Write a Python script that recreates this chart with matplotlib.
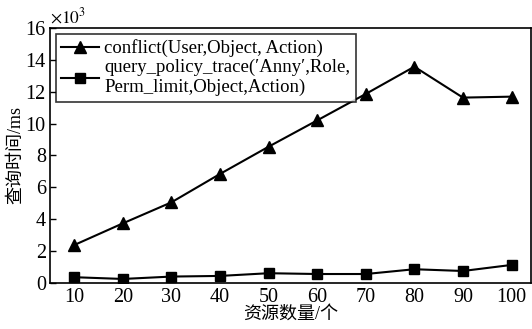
import matplotlib

matplotlib.use("Agg")
import matplotlib.pyplot as plt

plt.rcParams["font.family"] = ["Liberation Serif", "Noto Sans CJK SC", "DejaVu Sans"]
plt.rcParams["mathtext.fontset"] = "stix"

resources = [10, 20, 30, 40, 50, 60, 70, 80, 90, 100]
conflict_ms = [2.38, 3.74, 5.06, 6.84, 8.55, 10.2, 11.86, 13.57, 11.63, 11.69]
trace_ms = [0.36, 0.25, 0.4, 0.44, 0.61, 0.56, 0.56, 0.86, 0.75, 1.13]
conflict_label = "conflict(User,Object, Action)"
trace_label = "query_policy_trace(\u2032Anny\u2032,Role,\nPerm_limit,Object,Action)"

fig = plt.figure(figsize=(5.32, 3.29), dpi=100)
ax = fig.add_axes([0.094, 0.140, 0.904, 0.775])

ax.plot(resources, conflict_ms, color="black", marker="^", markersize=9,
        linewidth=1.5, label=conflict_label)
ax.plot(resources, trace_ms, color="black", marker="s", markersize=7.5,
        linewidth=1.5, label=trace_label)

ax.set_xlim(5, 104)
ax.set_ylim(0, 16)
ax.set_xticks(resources)
ax.set_yticks(range(0, 17, 2))
ax.tick_params(direction="in", labelsize=14.5, length=4, width=1)
ax.tick_params(axis="x", length=0, pad=4)
ax.tick_params(axis="y", pad=3)
for s in ax.spines.values():
    s.set_linewidth(1.2)

ax.set_xlabel("资源数量/个", fontsize=13, labelpad=-1)
ax.set_ylabel("查询时间/ms", fontsize=13, labelpad=1)
ax.text(0.0, 1.005, r"$\times10^3$", transform=ax.transAxes, fontsize=12.5,
        ha="left", va="bottom")

leg = ax.legend(loc="upper left", fontsize=13.5, frameon=True, fancybox=False,
                edgecolor="black", handlelength=2.0, borderaxespad=0.3,
                handletextpad=0.3, labelspacing=0.1, borderpad=0.3)
leg.get_frame().set_linewidth(1.2)

fig.savefig("out.png", dpi=100)
